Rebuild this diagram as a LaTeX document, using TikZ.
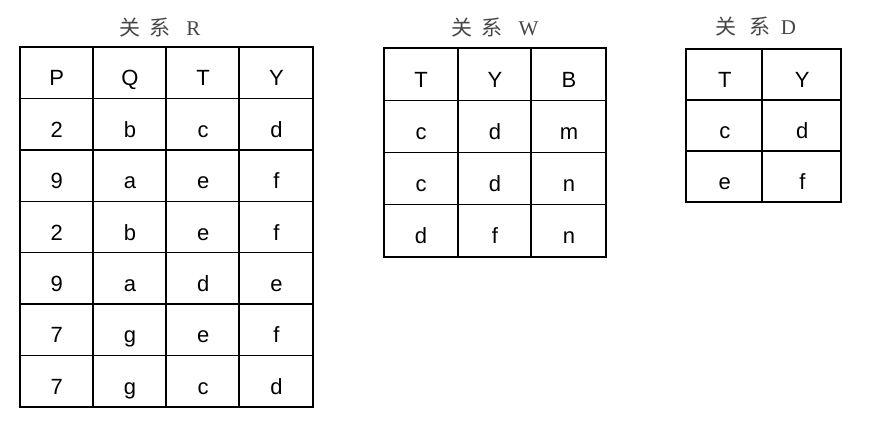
\documentclass[tikz,border=0pt]{standalone}
\usepackage{fontspec}
\setmainfont{Liberation Sans}
\newfontfamily\cjk{Noto Sans CJK SC}
\newfontfamily\romfont{Liberation Serif}
\definecolor{titlegray}{RGB}{70,70,70}
\tikzset{
  cell/.style={font=\fontsize{22}{22}\selectfont, anchor=base, inner sep=0pt},
  title/.style={font=\fontsize{21}{21}\selectfont, text=titlegray, anchor=base, inner sep=0pt},
  outer/.style={line width=2.2pt},
  inner/.style={line width=1.4pt}
}
\begin{document}
\begin{tikzpicture}[x=1pt,y=-1pt]
\useasboundingbox (0,0) rectangle (876,426);

% relation R
\node[title] (titleR) at (160,35) {{\cjk 关}\hspace{9pt}{\cjk 系}\hspace{16pt}{\romfont R}};
\foreach \x in {93,166,239} \draw[inner] (\x,47)--(\x,407);
\foreach \i in {1,...,6} \draw[inner] (20,47+51.43*\i)--(313,47+51.43*\i);
\draw[outer] (20,47) rectangle (313,407);
\foreach \row [count=\i] in {{P,Q,T,Y},{2,b,c,d},{9,a,e,f},{2,b,e,f},{9,a,d,e},{7,g,e,f},{7,g,c,d}}
  \foreach \v [count=\j] in \row
    \node[cell] (R-\i-\j) at (20+73.25*\j-36.6,47+51.43*\i-25.7+13) {\v};

% relation W
\node[title] (titleW) at (495,35) {{\cjk 关}\hspace{9pt}{\cjk 系}\hspace{16pt}{\romfont W}};
\foreach \x in {458,531} \draw[inner] (\x,48)--(\x,257);
\foreach \i in {1,...,3} \draw[inner] (384,48+52.25*\i)--(606,48+52.25*\i);
\draw[outer] (384,48) rectangle (606,257);
\foreach \row [count=\i] in {{T,Y,B},{c,d,m},{c,d,n},{d,f,n}}
  \foreach \v [count=\j] in \row
    \node[cell] (W-\i-\j) at (384+74*\j-37,48+52.25*\i-26.1+13) {\v};

% relation D
\node[title] (titleD) at (756,34) {{\cjk 关}\hspace{13pt}{\cjk 系}\hspace{10pt}{\romfont D}};
\draw[inner] (762,49)--(762,202);
\foreach \i in {1,2} \draw[inner] (686,49+51*\i)--(841,49+51*\i);
\draw[outer] (686,49) rectangle (841,202);
\foreach \row [count=\i] in {{T,Y},{c,d},{e,f}}
  \foreach \v [count=\j] in \row
    \node[cell] (D-\i-\j) at (686+77.5*\j-38.7,49+51*\i-25.5+13) {\v};

\end{tikzpicture}
\end{document}
